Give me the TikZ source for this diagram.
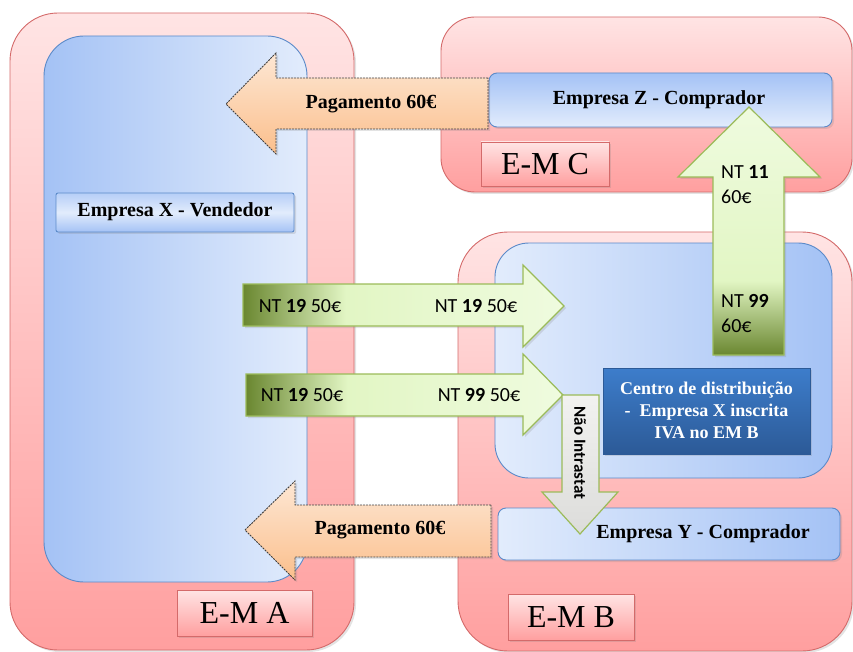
\documentclass[tikz,border=0pt]{standalone}
\usepackage{fontspec}
\setmainfont{Liberation Serif}
\setsansfont{Carlito}
\usetikzlibrary{shadows}

% palette
\definecolor{redEdge}{HTML}{D46A6A}
\definecolor{redTop}{HTML}{FFE4E4}
\definecolor{redBot}{HTML}{FF9F9F}
\definecolor{blueEdge}{HTML}{5B8AC9}
\definecolor{blueDeep}{HTML}{A4C2F5}
\definecolor{bluePale}{HTML}{E2ECFC}
\definecolor{peachTop}{HTML}{FDE7D4}
\definecolor{peachBot}{HTML}{FBBF8C}
\definecolor{greenEdge}{HTML}{9BBB59}
\definecolor{greenDark}{HTML}{6A8730}
\definecolor{greenLight}{HTML}{E2F6C4}
\definecolor{greenPale}{HTML}{EFFBDF}
\definecolor{navyTop}{HTML}{3D7DCB}
\definecolor{navyBot}{HTML}{2C5A97}
\definecolor{stoneTop}{HTML}{F2F2F0}
\definecolor{stoneBot}{HTML}{DCDCDA}

% green flow arrows: dark olive tail fading to pale green
\pgfdeclarehorizontalshading{ntright}{100bp}{color(0bp)=(greenDark); color(25bp)=(greenDark); color(41bp)=(greenLight); color(75bp)=(greenPale); color(100bp)=(greenPale)}
\pgfdeclareverticalshading{ntup}{100bp}{color(0bp)=(greenDark); color(25bp)=(greenDark); color(40bp)=(greenLight); color(75bp)=(greenPale); color(100bp)=(greenPale)}

\tikzset{
  softshadow/.style={drop shadow={shadow xshift=2pt, shadow yshift=-2pt, opacity=0.22}},
  region/.style={draw=redEdge, line width=0.9pt, top color=redTop, bottom color=redBot,
    inner sep=0pt, outer sep=0pt, softshadow},
  bluezone/.style={draw=blueEdge, line width=0.9pt, inner sep=0pt, outer sep=0pt},
  firm/.style={draw=blueEdge, line width=0.9pt, inner sep=0pt, outer sep=0pt, softshadow},
  tag/.style={draw=redEdge, line width=0.9pt, top color=redTop, bottom color=redBot,
    inner sep=0pt, outer sep=0pt, softshadow, font=\fontsize{32}{36}\selectfont},
  pay/.style={draw=black!75, line width=0.9pt, dash pattern=on 2pt off 1pt,
    top color=peachTop, bottom color=peachBot, softshadow},
  flow/.style={draw=greenEdge, line width=1.2pt, softshadow},
  lbl/.style={inner sep=0pt, font=\bfseries\fontsize{20}{24}\selectfont},
  nt/.style={inner sep=0pt, font=\sffamily\fontsize{20}{24}\selectfont},
  ntstack/.style={inner sep=0pt, anchor=west, align=left, font=\sffamily\fontsize{20}{25}\selectfont},
}

\begin{document}
\begin{tikzpicture}[x=1pt, y=-1pt]
  \useasboundingbox (0,0) rectangle (853,652);

  % member-state regions
  \node[region, rounded corners=48pt, minimum width=344pt, minimum height=637pt] (ema) at (182,331.5) {};
  \node[region, rounded corners=34pt, minimum width=411pt, minimum height=175pt] (emc) at (646.5,104.5) {};
  \node[region, rounded corners=50pt, minimum width=394pt, minimum height=419pt] (emb) at (655,441.5) {};

  % blue zones
  \node[bluezone, rounded corners=40pt, left color=blueDeep, right color=bluePale,
        minimum width=263pt, minimum height=546pt] (zoneA) at (175.5,309) {};
  \node[bluezone, rounded corners=34pt, left color=bluePale, right color=blueDeep,
        minimum width=337pt, minimum height=235pt] (zoneB) at (663.5,360.5) {};

  % company boxes
  \node[firm, rounded corners=2pt, top color=blueDeep!80, bottom color=blueDeep, middle color=bluePale,
        minimum width=238pt, minimum height=39pt] (boxX) at (175,212.5) {};
  \node[firm, rounded corners=8pt, top color=blueDeep, bottom color=bluePale,
        minimum width=343pt, minimum height=54pt] (boxZ) at (660.5,100) {};
  \node[firm, rounded corners=8pt, left color=bluePale, right color=blueDeep,
        minimum width=342pt, minimum height=52pt] (boxY) at (669,534) {};
  \node[draw=navyBot, line width=0.6pt, top color=navyTop, bottom color=navyBot, inner sep=0pt,
        softshadow, minimum width=207pt, minimum height=86pt] (centro) at (706.5,411) {};

  % region tags
  \node[tag, minimum width=135pt, minimum height=46pt] (tagA) at (244.5,613) {E-M A};
  \node[tag, minimum width=128pt, minimum height=44pt] (tagC) at (545,164) {E-M C};
  \node[tag, minimum width=126pt, minimum height=46pt] (tagB) at (571,617) {E-M B};

  % payment arrows
  \path[pay] (488,78) -- (276,78) -- (276,53) -- (226,104) -- (276,154) -- (276,129) -- (488,129) -- cycle;
  \path[pay] (491,505) -- (295,505) -- (295,481) -- (245,530) -- (295,580) -- (295,557) -- (491,557) -- cycle;

  % goods flows
  \path[flow, shading=ntright] (243,284) -- (523,284) -- (523,265) -- (564,306) -- (523,347) -- (523,326) -- (243,326) -- cycle;
  \path[flow, shading=ntright] (246,374) -- (523,374) -- (523,354) -- (563,395) -- (523,435) -- (523,416) -- (246,416) -- cycle;
  \path[flow, shading=ntup] (713,355) -- (713,177) -- (678,177) -- (749,107) -- (820,177) -- (784,177) -- (784,355) -- cycle;
  \path[draw=greenEdge, line width=1.2pt, top color=stoneTop, bottom color=stoneBot]
    (562,395) -- (599,395) -- (599,492) -- (618,492) -- (580,534) -- (542,492) -- (562,492) -- cycle;

  % texts
  \node[lbl] (tX) at (175,212) {Empresa X - Vendedor};
  \node[lbl] (tZ) at (659,100) {Empresa Z - Comprador};
  \node[lbl] (tY) at (703,534) {Empresa Y - Comprador};
  \node[lbl] (payTop) at (371,104) {Pagamento 60€};
  \node[lbl] (payBot) at (380,530) {Pagamento 60€};
  \node[lbl, text=white, align=center, font=\bfseries\fontsize{18}{22}\selectfont] (tCentro) at (706.5,410)
    {Centro de distribuição\\[0pt] -\ \ Empresa X inscrita\\[0pt]IVA no EM B};

  \node[nt] (f1a) at (300,306) {NT \textbf{19} 50€};
  \node[nt] (f1b) at (476,306) {NT \textbf{19} 50€};
  \node[nt] (f2a) at (302,395) {NT \textbf{19} 50€};
  \node[nt] (f2b) at (479,395) {NT \textbf{99} 50€};
  \node[ntstack] (upTop) at (721,185) {NT \textbf{11}\\60€};
  \node[ntstack] (upBot) at (721,314) {NT \textbf{99}\\60€};
  \node[inner sep=0pt, rotate=-90, font=\sffamily\bfseries\fontsize{17}{19}\selectfont] (intra) at (580,453) {Não Intrastat};
\end{tikzpicture}
\end{document}
